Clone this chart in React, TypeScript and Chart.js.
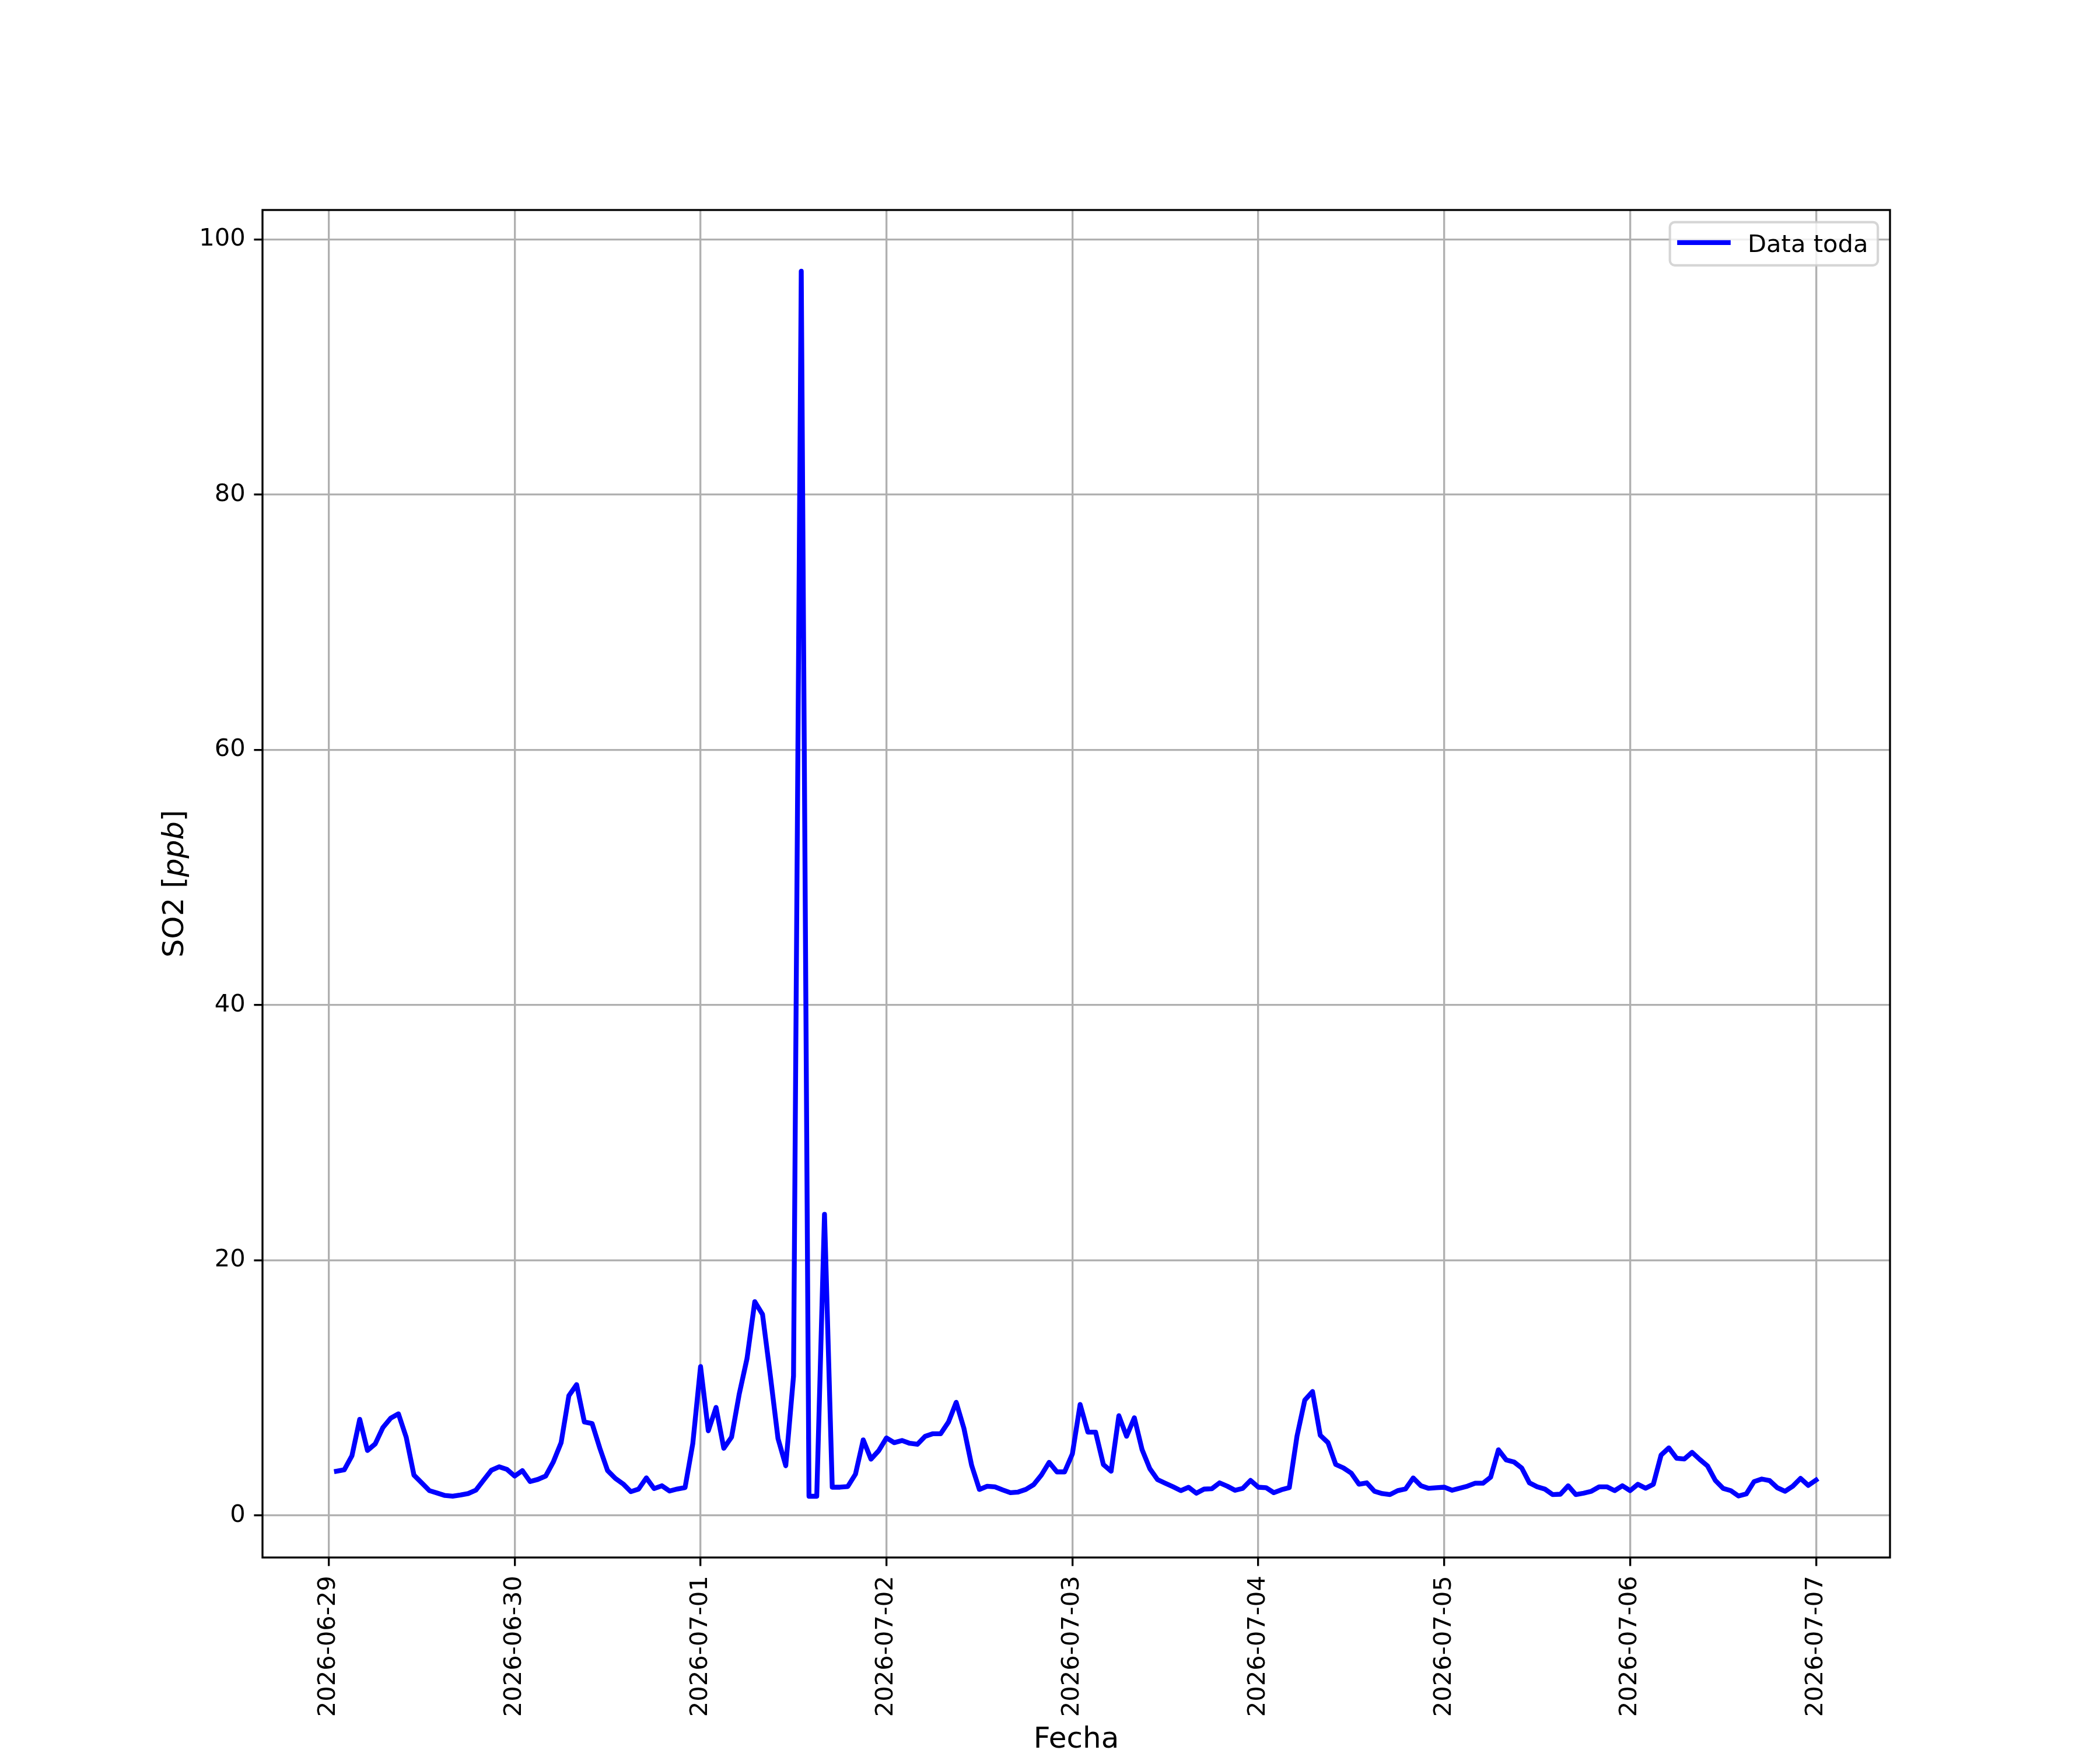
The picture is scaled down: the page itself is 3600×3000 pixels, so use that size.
import { useEffect, useRef } from 'react';
import { Chart, registerables } from 'chart.js';
import type { Plugin } from 'chart.js';

Chart.register(...registerables);

// one reading per hour, hours counted from 2026-06-29 00:00
const firstHour = 1;
const so2Values = [
    3.46, 3.57, 4.68, 7.53, 5.09, 5.6, 6.89, 7.62, 7.96, 6.13, 3.16, 2.55,
    1.94, 1.75, 1.56, 1.51, 1.6, 1.71, 1.98, 2.77, 3.54, 3.81, 3.61, 3.08,
    3.51, 2.65, 2.82, 3.08, 4.2, 5.7, 9.38, 10.25, 7.32, 7.2, 5.26, 3.51,
    2.9, 2.47, 1.86, 2.06, 2.94, 2.1, 2.32, 1.91, 2.07, 2.18, 5.64, 11.66,
    6.63, 8.46, 5.26, 6.13, 9.53, 12.3, 16.75, 15.75, 11.0, 6.02, 3.89, 10.9,
    97.5, 1.5, 1.5, 23.6, 2.21, 2.21, 2.26, 3.23, 5.92, 4.41, 5.07, 6.07,
    5.7, 5.87, 5.65, 5.57, 6.2, 6.4, 6.4, 7.31, 8.86, 6.82, 3.91, 2.03,
    2.28, 2.24, 2.0, 1.78, 1.83, 2.04, 2.41, 3.16, 4.16, 3.41, 3.41, 4.82,
    8.69, 6.53, 6.52, 3.99, 3.46, 7.81, 6.2, 7.65, 5.15, 3.66, 2.8, 2.52,
    2.24, 1.94, 2.2, 1.74, 2.06, 2.09, 2.55, 2.29, 1.97, 2.12, 2.74, 2.21,
    2.17, 1.78, 2.01, 2.17, 6.21, 9.03, 9.71, 6.28, 5.7, 3.99, 3.72, 3.31,
    2.44, 2.55, 1.89, 1.71, 1.63, 1.94, 2.07, 2.93, 2.32, 2.12, 2.17, 2.21,
    1.97, 2.13, 2.29, 2.52, 2.52, 3.0, 5.14, 4.35, 4.19, 3.72, 2.55, 2.24,
    2.06, 1.63, 1.66, 2.32, 1.63, 1.74, 1.89, 2.24, 2.24, 1.94, 2.32, 1.94,
    2.44, 2.13, 2.44, 4.73, 5.29, 4.48, 4.42, 4.94, 4.38, 3.87, 2.74, 2.12,
    1.94, 1.52, 1.68, 2.65, 2.85, 2.73, 2.17, 1.89, 2.29, 2.9, 2.35, 2.77,
];

const dayTicks = [0, 24, 48, 72, 96, 120, 144, 168, 192];
const dayLabels = [
    '2026-06-29', '2026-06-30', '2026-07-01', '2026-07-02', '2026-07-03',
    '2026-07-04', '2026-07-05', '2026-07-06', '2026-07-07',
];
const yTicks = [0, 20, 40, 60, 80, 100];

const seriesLabel = 'Data toda';
const xTitle = 'Fecha';
const yTitleParts = [
    { text: 'SO2 [', italic: false },
    { text: 'ppb', italic: true },
    { text: ']', italic: false },
];

// matplotlib look at 300 dpi
const PT = 300 / 72;
const FONT = '"DejaVu Sans", sans-serif';
const LINE_W = 2 * PT;

const framePlugin: Plugin<'line'> = {
    id: 'frame',
    afterDatasetsDraw(chart) {
        const { ctx, chartArea: a } = chart;
        ctx.save();
        ctx.strokeStyle = '#000';
        ctx.lineWidth = 0.8 * PT;
        ctx.strokeRect(a.left, a.top, a.right - a.left, a.bottom - a.top);
        ctx.restore();
    },
};

const legendPlugin: Plugin<'line'> = {
    id: 'mplLegend',
    afterDraw(chart) {
        const { ctx, chartArea: a } = chart;
        const ds = chart.data.datasets[0];
        const fs = 10 * PT;
        ctx.save();
        ctx.font = `${fs}px ${FONT}`;
        const label = String(ds.label);
        const textW = ctx.measureText(label).width;
        const pad = 0.4 * fs;
        const handle = 2 * fs;
        const gap = 0.8 * fs;
        const w = pad + handle + gap + textW + pad;
        const h = 74;
        const right = a.right - 0.5 * fs;
        const left = right - w;
        const top = a.top + 0.5 * fs;
        const r = 0.2 * fs;

        ctx.beginPath();
        ctx.roundRect(left, top, w, h, r);
        ctx.fillStyle = 'rgba(255,255,255,0.8)';
        ctx.fill();
        ctx.strokeStyle = 'rgba(204,204,204,0.8)';
        ctx.lineWidth = 1 * PT;
        ctx.stroke();

        const midY = top + 35;
        ctx.beginPath();
        ctx.moveTo(left + pad, midY);
        ctx.lineTo(left + pad + handle, midY);
        ctx.strokeStyle = String(ds.borderColor);
        ctx.lineWidth = LINE_W;
        ctx.lineCap = 'square';
        ctx.stroke();

        ctx.fillStyle = '#000';
        ctx.textBaseline = 'alphabetic';
        ctx.textAlign = 'left';
        ctx.fillText(label, left + pad + handle + gap, top + 51);
        ctx.restore();
    },
};

const titlePlugin: Plugin<'line'> = {
    id: 'axisTitles',
    afterDraw(chart) {
        const { ctx, chartArea: a } = chart;
        const fs = 12 * PT;
        ctx.save();
        ctx.fillStyle = '#000';
        ctx.textBaseline = 'alphabetic';

        ctx.font = `${fs}px ${FONT}`;
        ctx.textAlign = 'center';
        ctx.fillText(xTitle, (a.left + a.right) / 2, chart.height - 4);

        const fonts = yTitleParts.map(p => `${p.italic ? 'italic ' : ''}${fs}px ${FONT}`);
        const widths = yTitleParts.map((p, i) => {
            ctx.font = fonts[i];
            return ctx.measureText(p.text).width;
        });
        const total = widths.reduce((s, v) => s + v, 0);
        ctx.translate(a.left - 136.5, (a.top + a.bottom) / 2);
        ctx.rotate(-Math.PI / 2);
        ctx.textAlign = 'left';
        let x = -total / 2;
        yTitleParts.forEach((p, i) => {
            ctx.font = fonts[i];
            ctx.fillText(p.text, x, 0);
            x += widths[i];
        });
        ctx.restore();
    },
};

export default function App() {
    const chartRef = useRef<HTMLCanvasElement>(null);
    const chartInstance = useRef<Chart | null>(null);

    useEffect(() => {
        if (!chartRef.current) return;
        chartInstance.current?.destroy();
        const ctx = chartRef.current.getContext('2d');
        if (!ctx) return;

        Chart.defaults.font.family = FONT;
        Chart.defaults.color = '#000';

        const gridOpts = {
            color: '#b0b0b0',
            lineWidth: 0.8 * PT,
            tickColor: '#000',
            tickWidth: 0.8 * PT,
            tickLength: 3.5 * PT,
        };

        chartInstance.current = new Chart(ctx, {
            type: 'line',
            data: {
                datasets: [
                    {
                        label: seriesLabel,
                        data: so2Values.map((v, i) => ({ x: firstHour + i, y: v })),
                        borderColor: '#0000ff',
                        borderWidth: LINE_W,
                        borderCapStyle: 'square',
                        borderJoinStyle: 'round',
                        pointRadius: 0,
                        tension: 0,
                        fill: false,
                    },
                ],
            },
            options: {
                animation: false,
                responsive: true,
                maintainAspectRatio: false,
                devicePixelRatio: 1,
                events: [],
                layout: { padding: { top: 360, right: 360, left: 0, bottom: 0 } },
                plugins: {
                    legend: { display: false },
                    tooltip: { enabled: false },
                },
                scales: {
                    x: {
                        type: 'linear',
                        min: -8.55,
                        max: 201.55,
                        afterBuildTicks: scale => {
                            scale.ticks = dayTicks.map(value => ({ value }));
                        },
                        afterFit: scale => {
                            scale.height = 330;
                        },
                        grid: gridOpts,
                        border: { display: false },
                        ticks: {
                            autoSkip: false,
                            minRotation: 90,
                            maxRotation: 90,
                            padding: 4 * PT,
                            color: '#000',
                            font: { size: 10 * PT, family: FONT },
                            callback: v => dayLabels[dayTicks.indexOf(Number(v))] ?? '',
                        },
                    },
                    y: {
                        type: 'linear',
                        min: -3.3,
                        max: 102.3,
                        afterBuildTicks: scale => {
                            scale.ticks = yTicks.map(value => ({ value }));
                        },
                        afterFit: scale => {
                            scale.width = 450;
                        },
                        grid: gridOpts,
                        border: { display: false },
                        ticks: {
                            padding: 3.5 * PT,
                            color: '#000',
                            font: { size: 10 * PT, family: FONT },
                            callback: v => String(v),
                        },
                    },
                },
            },
            plugins: [framePlugin, legendPlugin, titlePlugin],
        });

        return () => {
            chartInstance.current?.destroy();
            chartInstance.current = null;
        };
    }, []);

    return (
        <div
            style={{
                position: 'absolute',
                left: 0,
                top: 0,
                width: 3600,
                height: 3000,
                background: '#fff',
            }}
        >
            <canvas ref={chartRef} />
        </div>
    );
}
